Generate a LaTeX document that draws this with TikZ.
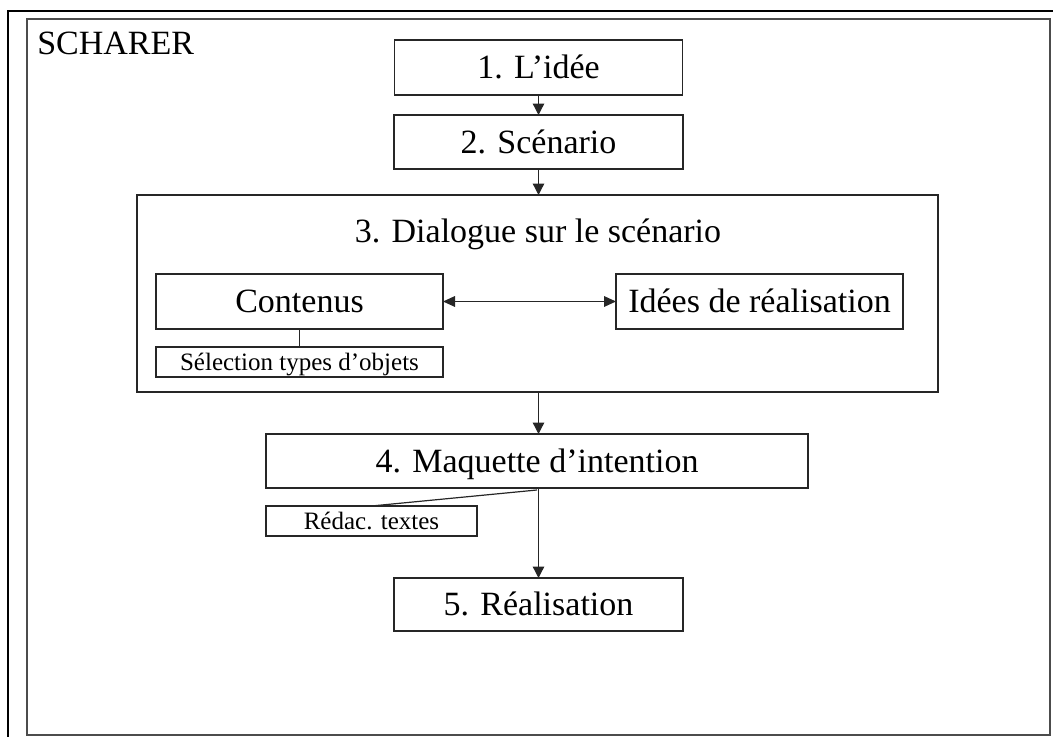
\documentclass[tikz,border=0pt]{standalone}
\usepackage{fontspec}
\setmainfont{Liberation Serif}
\usetikzlibrary{arrows.meta}
\begin{document}
\begin{tikzpicture}[x=0.75pt,y=-0.75pt,
  bigtext/.style={font=\fontsize{25.5}{30}\selectfont},
  smalltext/.style={font=\fontsize{18.75}{22}\selectfont},
  box/.style={draw=black!85,line width=1pt,inner sep=0pt,outer sep=0pt,
    align=center,text height=22.7pt,text depth=5.6pt,bigtext},
  smallbox/.style={box,smalltext,text height=16.7pt,text depth=4.1pt},
  tip/.style={Triangle[length=8.5pt,width=8.5pt]},
  flow/.style={draw=black!85,line width=1pt,-{Triangle[length=8.5pt,width=8.5pt]}},
  link/.style={draw=black!85,line width=0.9pt}]
  \useasboundingbox (0,0) rectangle (1053,737);
  \begin{scope}
    \clip (0,0) rectangle (1053,737);
    % outer page frame (runs past the right and bottom edges)
    \draw[line width=2pt,black] (8,11) rectangle (1070,760);
  \end{scope}
  % inner frame
  \draw[line width=1.5pt,black!70] (27,19) rectangle (1049.5,735);

  \node[bigtext,anchor=base west,inner sep=0pt] (title) at (37,55) {SCHARER};

  \node[box,minimum width=216pt,minimum height=41.25pt] (b1) at (538.5,67.5) {1. L’idée};
  \node[box,minimum width=216.75pt,minimum height=40.5pt] (b2) at (538.5,142) {2. Scénario};

  \node[draw=black!85,line width=1pt,inner sep=0pt,outer sep=0pt,
        minimum width=600.75pt,minimum height=147.75pt] (b3) at (537.5,293.5) {};
  \node[bigtext,anchor=base,inner sep=0pt] (b3t) at (538,243) {3. Dialogue sur le scénario};

  \node[box,minimum width=215.25pt,minimum height=41.25pt] (cont) at (299.5,301.5) {Contenus};
  \node[box,minimum width=215.25pt,minimum height=41.25pt] (idees) at (759.5,301.5) {Idées de réalisation};
  \node[smallbox,minimum width=215.25pt,minimum height=22.5pt] (sel) at (299.5,362) {Sélection types d’objets};

  \node[box,minimum width=406.5pt,minimum height=40.5pt] (maq) at (537,461) {4. Maquette d’intention};
  \node[smallbox,minimum width=158.25pt,minimum height=22.5pt] (redac) at (371.5,521) {Rédac. textes};

  \node[box,minimum width=216.75pt,minimum height=39.75pt] (real) at (538.5,604.5) {5. Réalisation};

  % flow between the steps
  \draw[flow] (b1.south) -- (b2.north);
  \draw[flow] (b2.south) -- (b2.south |- b3.north);
  \draw[flow] (b3.south -| real.north) -- (real.north |- maq.north);
  \draw[flow] (real.north |- maq.south) -- (real.north);
  \draw[link,{Triangle[length=9pt,width=8pt]}-{Triangle[length=9pt,width=8pt]}] (cont.east) -- (idees.west);

  % sub-task links
  \draw[link] (cont.south) -- (sel.north);
  \draw[link] ([yshift=-1.5pt]maq.south) -- (redac.north);
\end{tikzpicture}
\end{document}
